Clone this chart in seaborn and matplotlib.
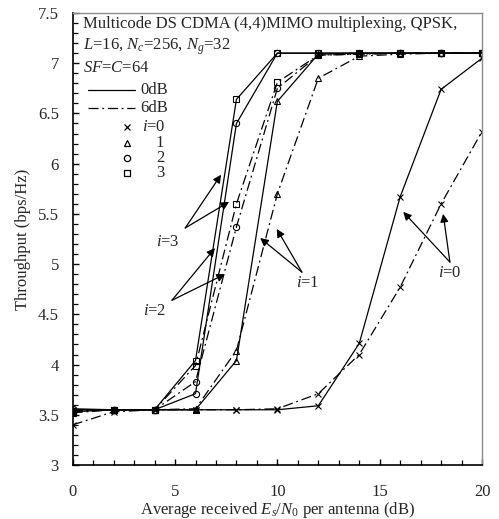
import numpy as np
import pandas as pd
import matplotlib
matplotlib.use("Agg")
import matplotlib.pyplot as plt
import seaborn as sns
from matplotlib.lines import Line2D

# data
snr = [0, 2, 4, 6, 8, 10, 12, 14, 16, 18, 20]
thr_0db_i0 = [3.55, 3.55, 3.55, 3.55, 3.55, 3.55, 3.59, 4.21, 5.67, 6.74, 7.05]
thr_6db_i0 = [3.40, 3.53, 3.55, 3.55, 3.55, 3.56, 3.71, 4.10, 4.77, 5.60, 6.32]
thr_0db_i1 = [3.55, 3.55, 3.55, 3.55, 4.04, 6.62, 7.09, 7.10, 7.10, 7.10, 7.10]
thr_6db_i1 = [3.54, 3.55, 3.55, 3.56, 4.14, 5.70, 6.85, 7.07, 7.09, 7.10, 7.10]
thr_0db_i2 = [3.56, 3.55, 3.55, 3.71, 6.40, 7.10, 7.10, 7.10, 7.10, 7.10, 7.10]
thr_6db_i2 = [3.54, 3.55, 3.55, 3.83, 5.37, 6.75, 7.08, 7.09, 7.10, 7.10, 7.10]
thr_0db_i3 = [3.53, 3.55, 3.55, 4.04, 6.64, 7.10, 7.10, 7.10, 7.10, 7.10, 7.10]
thr_6db_i3 = [3.52, 3.55, 3.55, 3.99, 5.60, 6.81, 7.08, 7.09, 7.10, 7.10, 7.10]

series = [
    ("0dB", 0, thr_0db_i0), ("6dB", 0, thr_6db_i0),
    ("0dB", 1, thr_0db_i1), ("6dB", 1, thr_6db_i1),
    ("0dB", 2, thr_0db_i2), ("6dB", 2, thr_6db_i2),
    ("0dB", 3, thr_0db_i3), ("6dB", 3, thr_6db_i3),
]
rows = []
for power, i, vals in series:
    for s, v in zip(snr, vals):
        rows.append({"snr": s, "thr": v, "power": power, "i": i})
df = pd.DataFrame(rows)

sns.set_style("ticks")
plt.rcParams["font.family"] = ["Liberation Serif", "DejaVu Serif"]
plt.rcParams["mathtext.fontset"] = "custom"
plt.rcParams["mathtext.rm"] = "Liberation Serif"
plt.rcParams["mathtext.it"] = "Liberation Serif:italic"
plt.rcParams["font.size"] = 12

dashdot = (0, (8, 3, 1.5, 3))
line_styles = {"0dB": "-", "6dB": dashdot}
markers = {0: "x", 1: "^", 2: "o", 3: "s"}
msizes = {0: 5, 1: 4.5, 2: 4.5, 3: 5}

fig = plt.figure(figsize=(4.99, 5.19), dpi=100)
ax = fig.add_axes([0.1457, 0.104, 0.8203, 0.871])

for (power, i), sub in df.groupby(["power", "i"]):
    sns.lineplot(data=sub, x="snr", y="thr", ax=ax, color="k", lw=0.9,
                 linestyle=line_styles[power], marker=markers[i],
                 markersize=msizes[i], markerfacecolor="none",
                 markeredgecolor="k", markeredgewidth=0.8, legend=False)

ax.set_xlim(0, 20)
ax.set_ylim(3, 7.5)
ax.set_xticks(np.arange(0, 21, 5))
ax.set_xticks(np.arange(0, 21, 1), minor=True)
ax.set_yticks(np.arange(3, 7.51, 0.5))
ax.set_yticks(np.arange(3, 7.51, 0.1), minor=True)
ax.set_xticklabels(["0", "5", "10", "15", "20"])
ax.set_yticklabels(["3", "3.5", "4", "4.5", "5", "5.5", "6", "6.5", "7", "7.5"])
ax.tick_params(which="both", direction="in", top=False, right=False,
               labelsize=12, color="k")
ax.tick_params(which="major", length=4, width=1)
ax.tick_params(which="minor", length=3.5, width=0.9)
ax.tick_params(axis="x", pad=14)
ax.tick_params(axis="y", pad=10)
for side in ["left", "bottom"]:
    ax.spines[side].set_color("k")
    ax.spines[side].set_linewidth(1.2)
for side in ["top", "right"]:
    ax.spines[side].set_color("#8c8c8c")
    ax.spines[side].set_linewidth(1)

ax.set_xlabel("Average received $E_s/N_0$ per antenna (dB)", fontsize=12, labelpad=0)
ax.set_ylabel("Throughput (bps/Hz)", fontsize=12, labelpad=5)

# caption block and legend, top left
tx = 0.026
ax.text(tx, 0.975, "Multicode DS CDMA (4,4)MIMO multiplexing, QPSK,",
        transform=ax.transAxes, va="center", ha="left", fontsize=12)
ax.text(tx, 0.926, "$L$=16, $N_c$=256, $N_g$=32",
        transform=ax.transAxes, va="center", ha="left", fontsize=12)
ax.text(tx, 0.878, "$SF$=$C$=64",
        transform=ax.transAxes, va="center", ha="left", fontsize=12)

for y, power in [(0.830, "0dB"), (0.789, "6dB")]:
    ax.add_line(Line2D([0.0376, 0.152], [y, y], transform=ax.transAxes,
                       color="k", lw=0.9, linestyle=line_styles[power]))
    ax.text(0.1645, y, power, transform=ax.transAxes, va="center",
            ha="left", fontsize=12)

leg_y = [0.748, 0.713, 0.679, 0.646]
for i, y in zip(range(4), leg_y):
    ax.add_line(Line2D([0.1327], [y], transform=ax.transAxes, color="k",
                       marker=markers[i], markersize=msizes[i],
                       markerfacecolor="none", markeredgewidth=0.9, lw=0))
    if i == 0:
        ax.text(0.169, y, "$i$=0", transform=ax.transAxes, va="center",
                ha="left", fontsize=12)
    else:
        ax.text(0.213, y, str(i), transform=ax.transAxes, va="center",
                ha="center", fontsize=12)

# arrow annotations
arrow = dict(arrowstyle="-|>", color="k", lw=0.9, mutation_scale=12,
             shrinkA=0, shrinkB=0)
annots = [
    ("$i$=3", (4.66, 5.22), (5.50, 5.36), [(7.25, 5.89), (7.64, 5.62)]),
    ("$i$=2", (4.03, 4.53), (4.85, 4.64), [(6.95, 5.16), (7.44, 4.90)]),
    ("$i$=1", (11.5, 4.81), (11.2, 4.92), [(9.16, 5.26), (9.97, 5.35)]),
    ("$i$=0", (18.43, 4.91), (18.43, 5.02), [(16.15, 5.52), (18.1, 5.50)]),
]
for label, pos, tail, tips in annots:
    ax.text(pos[0], pos[1], label, ha="center", va="center", fontsize=12)
    for tip in tips:
        ax.annotate("", xy=tip, xytext=tail, arrowprops=arrow)

fig.savefig("out.png", dpi=100)
